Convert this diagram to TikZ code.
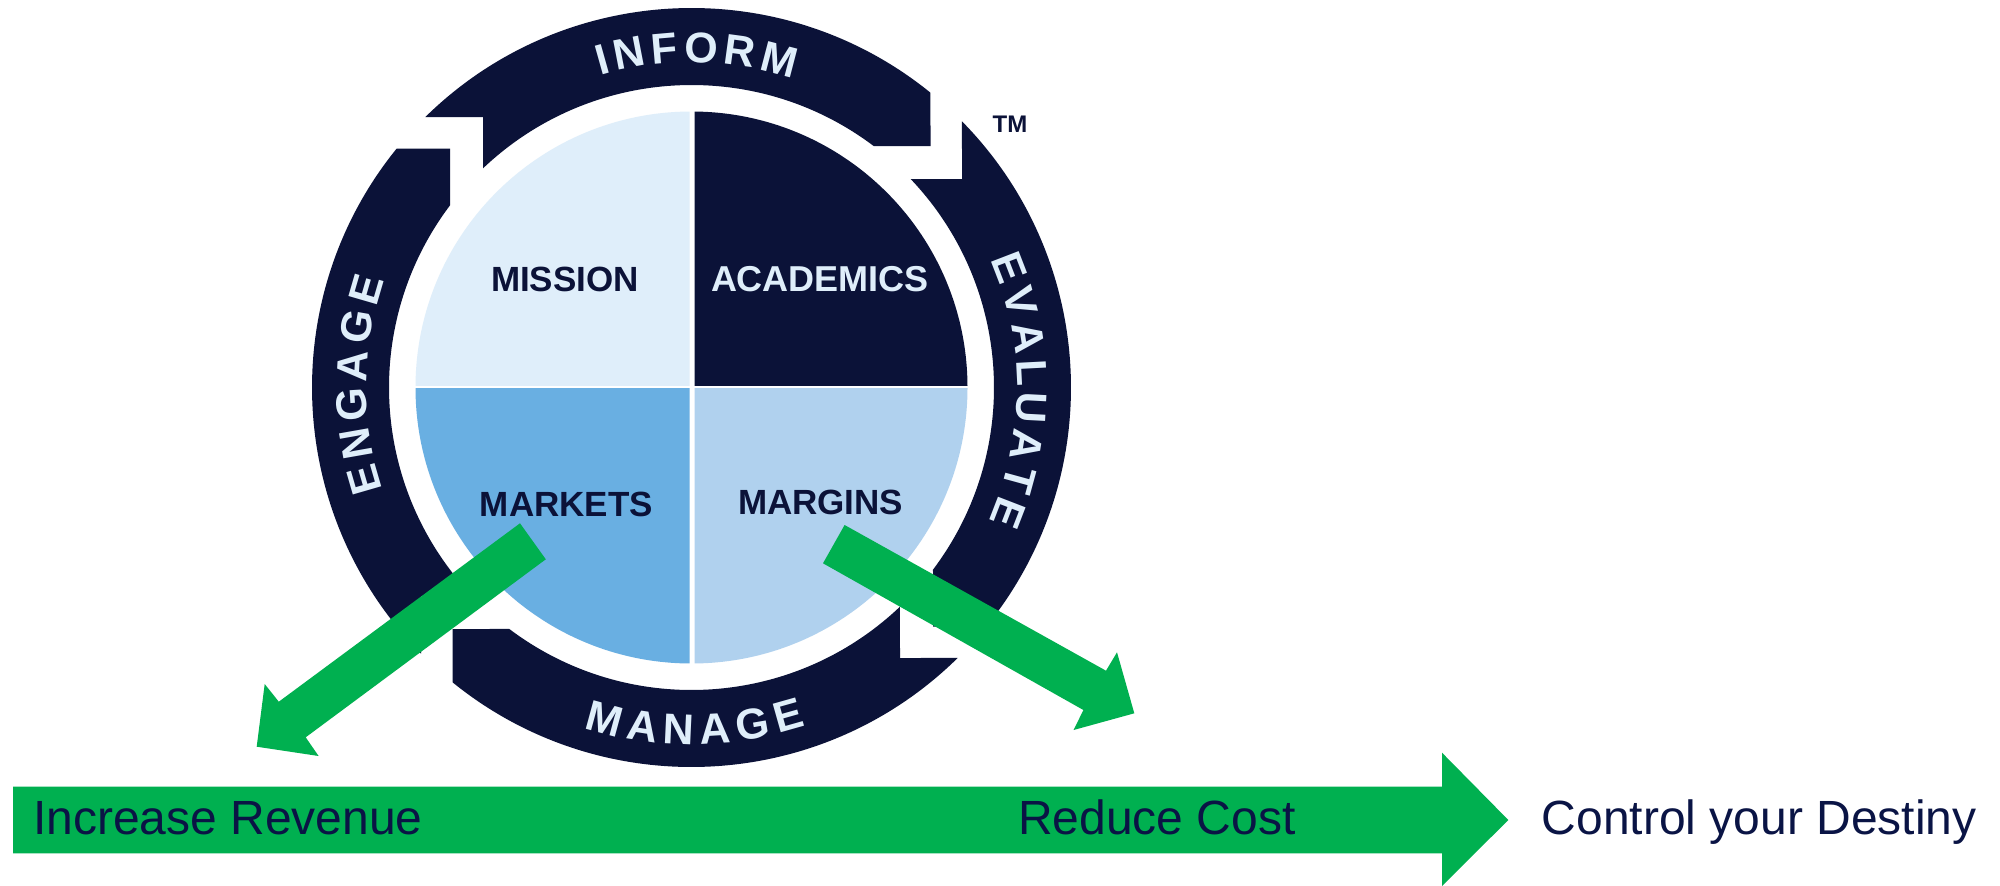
\documentclass[tikz,border=0pt]{standalone}
\usepackage{fontspec}
\setmainfont{Liberation Sans}
\usetikzlibrary{decorations.text}
\definecolor{navy}{HTML}{0B1238}
\definecolor{paleq}{HTML}{DFEEFA}
\definecolor{midq}{HTML}{69AFE2}
\definecolor{lightq}{HTML}{B0D1EE}
\definecolor{grn}{HTML}{00B050}
\definecolor{inktxt}{HTML}{0A1445}
\newcommand{\ringfmt}{\fontsize{43}{48}\bfseries\selectfont\color{paleq}\kern5.3pt}
\newcommand{\manfmt}{\fontsize{43}{48}\bfseries\selectfont\color{paleq}\kern7pt}
\tikzset{
  x=1pt,y=1pt,
  quadlabel/.style={inner sep=0pt,anchor=base,font=\fontsize{35}{40}\bfseries\selectfont},
  biglabel/.style={inner sep=0pt,anchor=base west,text=inktxt,font=\fontsize{48}{52}\selectfont},
  greenblock/.style={fill=grn,draw=none},
  ringsegment/.style={fill=navy,draw=none},
  ringtext/.style={decorate,decoration={text along path,text align=center,text={|\ringfmt|#1}}},
  mantext/.style={decorate,decoration={text along path,text align=center,text={|\manfmt|#1}}}
}
\begin{document}
\begin{tikzpicture}
\useasboundingbox (0,0) rectangle (2000,-886);
\fill[white] (0,0) rectangle (2000,-886);
% ring segments: one shape, four quarter turns
\foreach \r in {0,-90,-180,-270}{
  \begin{scope}[shift={(691.5,-387.5)},rotate=\r]
    \fill[ringsegment] (134.54:379.5) -- (-208.5,270.5) -- (133.56:302.5)
      arc[start angle=133.56,end angle=52.97,radius=302.5]
      -- (239,241.5) -- (50.97:379.5)
      arc[start angle=50.97,end angle=134.54,radius=379.5] -- cycle;
  \end{scope}
}
% quadrants
\begin{scope}\clip (300,0) rectangle (689.5,-385);
 \fill[paleq] (691.5,-387.5) circle[radius=276];\end{scope}
\begin{scope}\clip (694.5,0) rectangle (1100,-385);
 \fill[navy] (691.5,-387.5) circle[radius=276];\end{scope}
\begin{scope}\clip (300,-388.5) rectangle (689.5,-700);
 \fill[midq] (691.5,-387.5) circle[radius=276];\end{scope}
\begin{scope}\clip (694.5,-388.5) rectangle (1100,-700);
 \fill[lightq] (691.5,-387.5) circle[radius=276];\end{scope}
% ring words
\begin{scope}[shift={(691.5,-387.5)}]
 \path[ringtext={INFORM}] (134.5:325) arc[start angle=134.5,end angle=44.5,radius=325];
 \path[ringtext={EVALUATE}] (45:325.5) arc[start angle=45,end angle=-45,radius=325.5];
 \path[mantext={MANAGE}] (225:357) arc[start angle=225,end angle=315,radius=357];
 \path[ringtext={ENGAGE}] (225:325) arc[start angle=225,end angle=135,radius=325];
\end{scope}
% labels
\node[quadlabel,text=navy] (mission) at (565,-291.7) {MISSION};
\node[quadlabel,text=paleq,font=\fontsize{36}{40}\bfseries\selectfont] (academics) at (820,-291.7) {ACADEMICS};
\node[quadlabel,text=navy] (markets) at (566.5,-516.7) {MARKETS};
\node[quadlabel,text=navy] (margins) at (820.7,-514.3) {MARGINS};
\node[inner sep=0pt,anchor=base west,text=navy,font=\fontsize{24}{26}\bfseries\selectfont] (tm) at (992.5,-132) {TM};
% green arrows
\fill[greenblock] (520,-523.3) -- (545.8,-559.3) -- (305.7,-737.3) -- (318.6,-756)
  -- (256.7,-746.7) -- (264.7,-684) -- (278.8,-701.7) -- cycle;
\fill[greenblock] (844.6,-525) -- (823,-563.3) -- (1083.4,-710) -- (1073.6,-730)
  -- (1134.3,-713.3) -- (1117,-652.3) -- (1106,-670.7) -- cycle;
\fill[greenblock] (13,-786.7) -- (1442,-786.7) -- (1442,-752.7) -- (1508.3,-820)
  -- (1442,-886) -- (1442,-853.3) -- (13,-853.3) -- cycle;
\node[biglabel] (rev) at (33,-834.5) {Increase Revenue};
\node[biglabel] (cost) at (1018,-834.5) {Reduce Cost};
\node[biglabel] (dest) at (1541.5,-834.5) {Control your Destiny};
\end{tikzpicture}
\end{document}
